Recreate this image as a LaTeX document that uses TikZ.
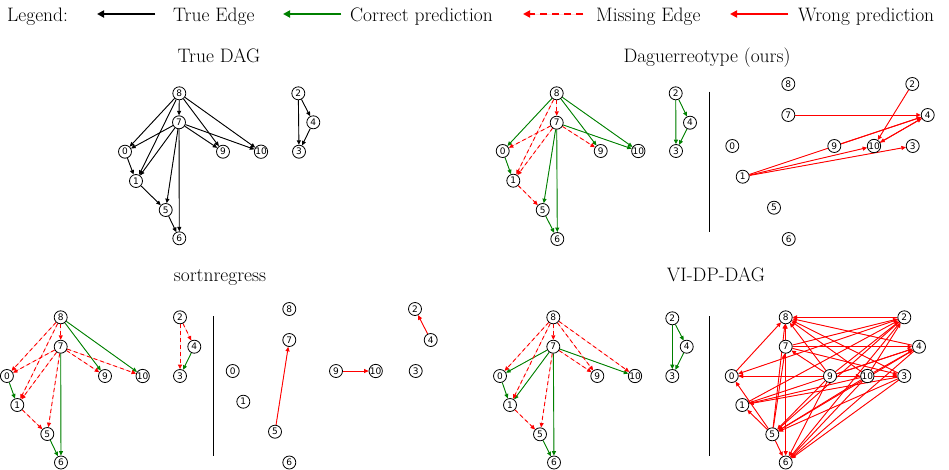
\documentclass[tikz,border=0pt]{standalone}
\usepackage{fontspec}
\newfontfamily\nodefont{DejaVu Sans}
\usetikzlibrary{arrows.meta}
\definecolor{mplgreen}{RGB}{0,128,0}
\definecolor{mplred}{RGB}{255,0,0}
\pgfdeclarelayer{bg}
\pgfsetlayers{bg,main}
\begin{document}
\begin{tikzpicture}[x=1pt,y=-1pt,
  vtx/.style={circle, draw=black, fill=white, line width=0.8pt, minimum size=13pt, inner sep=0pt, font=\nodefont\fontsize{9}{9}\selectfont},
  tip/.style={-{Triangle[length=4.5pt,width=4pt]}},
  tedge/.style={tip, draw=black, fill=black, line width=0.9pt},
  gedge/.style={tip, draw=mplgreen, fill=mplgreen, line width=0.9pt},
  medge/.style={tip, draw=mplred, fill=mplred, line width=0.9pt, dash pattern=on 4pt off 3pt},
  wedge/.style={tip, draw=mplred, fill=mplred, line width=0.9pt},
  legtip/.style={-{Triangle[length=7pt,width=7pt]}, line width=1.8pt},
  txt/.style={font=\fontsize{19.5}{23}\selectfont, inner sep=0pt},
  sepline/.style={draw=black, line width=1pt}
]
\useasboundingbox (0,0) rectangle (949,469);

% ---------- Legend ----------
\node[txt, anchor=base west] (lgT) at (7,21) {Legend:};
\coordinate (lk1) at (155,14); \coordinate (lh1) at (97,14);
\draw[legtip, draw=black, fill=black] (lk1) -- (lh1);
\node[txt, anchor=base west] (lgE) at (173,21) {True Edge};
\coordinate (lk2) at (341,14); \coordinate (lh2) at (283,14);
\draw[legtip, draw=mplgreen, fill=mplgreen] (lk2) -- (lh2);
\node[txt, anchor=base west] (lgC) at (350,21) {Correct prediction};
\coordinate (lk3) at (583,14); \coordinate (lh3) at (523,14);
\draw[legtip, draw=mplred, fill=mplred, dash pattern=on 7pt off 5pt] (lk3) -- (lh3);
\node[txt, anchor=base west] (lgM) at (596,21) {Missing Edge};
\coordinate (lk4) at (788,14); \coordinate (lh4) at (730,14);
\draw[legtip, draw=mplred, fill=mplred] (lk4) -- (lh4);
\node[txt, anchor=base west] (lgW) at (798,21) {Wrong prediction};

% ---------- Titles ----------
\node[txt, anchor=base] (ttl1) at (219,62) {True DAG};
\node[txt, anchor=base] (ttl2) at (707,62) {Daguerreotype (ours)};
\node[txt, anchor=base] (ttl3) at (220,281) {sortnregress};
\node[txt, anchor=base] (ttl4) at (716,281) {VI-DP-DAG};

% ---------- Nodes ----------
\foreach \n/\x/\y in {8/179.3/93.3, 7/179/122.3, 0/125/151.7, 9/223/151.7, 10/261/151.7, 1/136/181, 5/165.7/210, 6/179.3/238.3, 2/298.3/93.3, 4/313.3/122.3, 3/299/151.7}
  \node[vtx] (t\n) at (\x,\y) {\n};
\foreach \n/\x/\y in {8/556.7/93.3, 7/556.7/122.7, 0/502.7/151, 9/600.7/151, 10/638.3/151, 1/513.3/180.7, 5/542.7/210, 6/557.3/239, 2/675.7/93.3, 4/690/122.7, 3/676/151}
  \node[vtx] (dl\n) at (\x,\y) {\n};
\foreach \n/\x/\y in {8/788.3/84, 7/788.3/115, 0/732.3/146, 9/834.3/146, 10/874/146, 1/742.7/176.7, 5/774/207.7, 6/788.7/239, 2/912.3/84, 4/927.7/115, 3/912.7/146}
  \node[vtx] (dr\n) at (\x,\y) {\n};
\foreach \n/\x/\y in {8/60.7/317.3, 7/60.7/346.7, 0/6.9/376, 9/105/376, 10/142.7/376, 1/17.3/405, 5/47.3/434, 6/61/462.5, 2/180/317.3, 4/194.3/346.7, 3/180/376}
  \node[vtx] (sl\n) at (\x,\y) {\n};
\foreach \n/\x/\y in {8/289.3/309, 7/289.3/340, 0/232.7/371, 9/336/371, 10/375.7/371, 1/243.3/401.7, 5/275/431.7, 6/289.3/462.5, 2/415/309, 4/430.7/340, 3/415.7/371}
  \node[vtx] (sr\n) at (\x,\y) {\n};
\foreach \n/\x/\y in {8/553.3/317.3, 7/553.3/346.7, 0/500/376, 9/597.3/376, 10/635/376, 1/510/405, 5/540/434.3, 6/554/462.5, 2/672.3/318.3, 4/686.7/346.7, 3/672.3/376}
  \node[vtx] (vl\n) at (\x,\y) {\n};
\foreach \n/\x/\y in {8/785.7/317.3, 7/785.7/346.7, 0/731.7/376, 9/830/376, 10/867.3/376, 1/742.3/405, 5/772.3/434.3, 6/785.7/462.5, 2/904.3/317.3, 4/919/346.7, 3/904.3/376}
  \node[vtx] (vr\n) at (\x,\y) {\n};

% ---------- Separators ----------
\draw[sepline] (709.3,91.7) -- (709.3,231.7);
\draw[sepline] (213.3,316) -- (213.3,456);
\draw[sepline] (709.3,316) -- (709.3,456);

% ---------- Edges ----------
\begin{pgfonlayer}{bg}
% True DAG
\foreach \a/\b in {8/0, 8/1, 8/7, 8/9, 8/10, 7/0, 7/1, 7/5, 7/6, 7/9, 7/10, 0/1, 1/5, 5/6, 2/3, 2/4, 4/3}
  \draw[tedge] (t\a) -- (t\b);
% Daguerreotype
\foreach \a/\b in {8/0, 8/9, 8/10, 7/5, 7/6, 7/10, 0/1, 5/6, 2/3, 2/4, 4/3}
  \draw[gedge] (dl\a) -- (dl\b);
\foreach \a/\b in {8/7, 8/1, 7/0, 7/1, 7/9, 1/5}
  \draw[medge] (dl\a) -- (dl\b);
\foreach \a/\b in {7/4, 2/10, 4/10, 10/4, 9/4, 1/4, 1/10, 1/3}
  \draw[wedge] (dr\a) -- (dr\b);
% sortnregress
\foreach \a/\b in {8/9, 8/10, 7/6, 0/1, 5/6, 4/3}
  \draw[gedge] (sl\a) -- (sl\b);
\foreach \a/\b in {8/0, 8/1, 8/7, 7/0, 7/1, 7/5, 7/9, 7/10, 1/5, 2/3, 2/4}
  \draw[medge] (sl\a) -- (sl\b);
\foreach \a/\b in {5/7, 9/10, 4/2}
  \draw[wedge] (sr\a) -- (sr\b);
% VI-DP-DAG
\foreach \a/\b in {7/0, 7/1, 7/10, 7/6, 0/1, 5/6, 2/3, 2/4, 4/3}
  \draw[gedge] (vl\a) -- (vl\b);
\foreach \a/\b in {8/0, 8/1, 8/7, 8/9, 8/10, 7/5, 7/9, 1/5}
  \draw[medge] (vl\a) -- (vl\b);
\foreach \a/\b in {0/8, 2/8, 7/8, 5/8, 9/8, 10/8, 3/8, 4/8,
                   2/0, 9/0, 3/0, 5/0, 5/1, 5/6, 5/7,
                   9/7, 7/2, 7/4, 7/3,
                   1/2, 10/1, 3/1, 1/4,
                   9/5, 10/5, 4/5, 2/5, 3/5,
                   9/6, 10/6, 4/6, 3/6, 2/6, 8/6,
                   9/2, 9/4, 9/3, 10/2, 10/4, 10/3, 9/10}
  \draw[wedge] (vr\a) -- (vr\b);
\end{pgfonlayer}
\end{tikzpicture}
\end{document}
